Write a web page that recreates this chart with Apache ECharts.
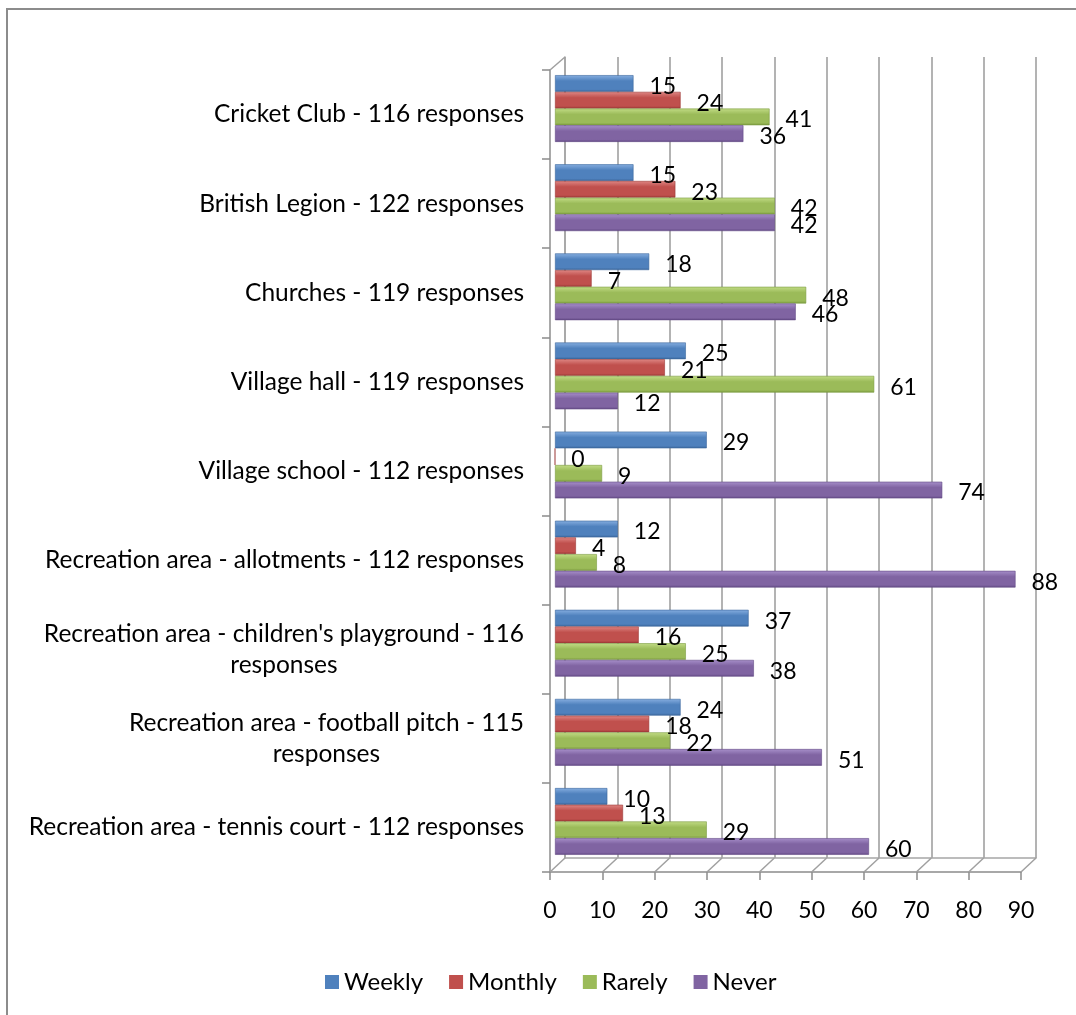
<!DOCTYPE html>
<html>
<head>
<meta charset="utf-8">
<script src="https://cdn.jsdelivr.net/npm/echarts@6/dist/echarts.min.js"></script>
<style>html,body{margin:0;padding:0;background:#fff;}#c{width:1076px;height:1015px;}</style>
</head>
<body>
<div id="c"></div>
<script>
const categories = [
  "Cricket Club - 116 responses",
  "British Legion - 122 responses",
  "Churches - 119 responses",
  "Village hall - 119 responses",
  "Village school - 112 responses",
  "Recreation area - allotments - 112 responses",
  "Recreation area - children's playground - 116\nresponses",
  "Recreation area - football pitch - 115\nresponses",
  "Recreation area - tennis court - 112 responses"
];
const weekly  = [15, 15, 18, 25, 29, 12, 37, 24, 10];
const monthly = [24, 23, 7, 21, 0, 4, 16, 18, 13];
const rarely  = [41, 42, 48, 61, 9, 8, 25, 22, 29];
const never   = [36, 42, 46, 12, 74, 88, 38, 51, 60];
const seriesNames = ["Weekly", "Monthly", "Rarely", "Never"];
const xTickValues = [0, 10, 20, 30, 40, 50, 60, 70, 80, 90];

const FONT = 'Lato';
const colors = ['#4F81BD', '#C0504D', '#9BBB59', '#8064A2'];
const light  = ['#86aee0', '#de8683', '#c2dc86', '#a78fca'];
const dark   = ['#3b679c', '#9c3936', '#7b9a3f', '#634a85'];

function grad(i) {
  return new echarts.graphic.LinearGradient(0, 0, 0, 1, [
    {offset: 0, color: light[i]},
    {offset: 0.35, color: colors[i]},
    {offset: 0.85, color: colors[i]},
    {offset: 1, color: dark[i]}
  ]);
}

const chart = echarts.init(document.getElementById('c'), null, {renderer: 'canvas'});
const values = [weekly, monthly, rarely, never];
const xMin = xTickValues[0], xMax = xTickValues[xTickValues.length - 1];
const xInt = xTickValues[1] - xTickValues[0];

const series = values.map((v, i) => ({
  name: seriesNames[i],
  type: 'bar',
  xAxisIndex: 2,
  yAxisIndex: 2,
  data: v,
  barWidth: 16.7,
  barGap: '0%',
  itemStyle: {color: grad(i), borderColor: dark[i], borderWidth: 0.6},
  label: {
    show: true,
    position: 'right',
    distance: 16,
    offset: [0, 3],
    color: '#000',
    fontSize: 23,
    fontFamily: FONT
  }
}));

chart.setOption({
  animation: false,
  backgroundColor: '#fff',
  legend: {
    left: 320,
    top: 965,
    itemWidth: 14,
    itemHeight: 14,
    itemGap: 26,
    textStyle: {fontSize: 24, fontFamily: FONT, color: '#000'},
    data: seriesNames.map((n, i) => ({name: n, icon: 'rect', itemStyle: {color: colors[i], borderWidth: 0}}))
  },
  grid: [
    {left: 550, right: 55, top: 70, bottom: 143},
    {left: 565, right: 40, top: 57, bottom: 157},
    {left: 555, right: 50, top: 64, bottom: 149}
  ],
  xAxis: [
    {
      gridIndex: 0, type: 'value', min: xMin, max: xMax, interval: xInt,
      axisLine: {show: true, lineStyle: {color: '#8c8c8c', width: 1.5}},
      axisTick: {show: true, length: 8, lineStyle: {color: '#8c8c8c', width: 1.5}},
      axisLabel: {fontSize: 23, fontFamily: FONT, color: '#000', margin: 27},
      splitLine: {show: false}
    },
    {
      gridIndex: 1, type: 'value', min: xMin, max: xMax, interval: xInt,
      axisLine: {show: true, lineStyle: {color: '#a6a6a6', width: 1.5}},
      axisTick: {show: false}, axisLabel: {show: false},
      splitLine: {show: true, lineStyle: {color: '#a0a0a0', width: 1.6}}
    },
    {
      gridIndex: 2, type: 'value', min: xMin, max: xMax, interval: xInt,
      show: false
    }
  ],
  yAxis: [
    {
      gridIndex: 0, type: 'category', data: categories, inverse: true,
      axisLine: {show: true, lineStyle: {color: '#8c8c8c', width: 1.5}},
      axisTick: {show: true, length: 8, lineStyle: {color: '#8c8c8c', width: 1.5}},
      axisLabel: {
        margin: 26,
        color: '#000',
        fontSize: 24.5,
        fontFamily: FONT,
        lineHeight: 31,
        formatter: function (val) {
          return val.split('\n').map(l => '{c|' + l + '}').join('\n');
        },
        rich: {c: {align: 'center', fontSize: 24.5, fontFamily: FONT, color: '#000', lineHeight: 31}}
      }
    },
    {
      gridIndex: 1, type: 'category', data: categories, inverse: true,
      axisLine: {show: true, lineStyle: {color: '#a6a6a6', width: 1.5}},
      axisTick: {show: false}, axisLabel: {show: false}, splitLine: {show: false}
    },
    {
      gridIndex: 2, type: 'category', data: categories, inverse: true, show: false
    }
  ],
  series: series
});

// 3D floor / wall connectors computed from the grids laid out by the library
const model = chart.getModel();
const frontRect = model.getComponent('grid', 0).coordinateSystem.getRect();
const backRect = model.getComponent('grid', 1).coordinateSystem.getRect();
const g = [{
  type: 'rect',
  shape: {x: 7, y: 9, width: 1100, height: 1100},
  style: {fill: 'none', stroke: '#8c8c8c', lineWidth: 2},
  silent: true,
  z: -10
}];
xTickValues.forEach(v => {
  const fx = chart.convertToPixel({xAxisIndex: 0}, v);
  const bx = chart.convertToPixel({xAxisIndex: 1}, v);
  g.push({
    type: 'line', silent: true, z: 1,
    shape: {x1: fx, y1: frontRect.y + frontRect.height, x2: bx, y2: backRect.y + backRect.height},
    style: {stroke: '#a0a0a0', lineWidth: 1.5}
  });
});
g.push({
  type: 'line', silent: true, z: 1,
  shape: {x1: frontRect.x, y1: frontRect.y, x2: backRect.x, y2: backRect.y},
  style: {stroke: '#a0a0a0', lineWidth: 1.5}
});
chart.setOption({graphic: g});
</script>
</body>
</html>
